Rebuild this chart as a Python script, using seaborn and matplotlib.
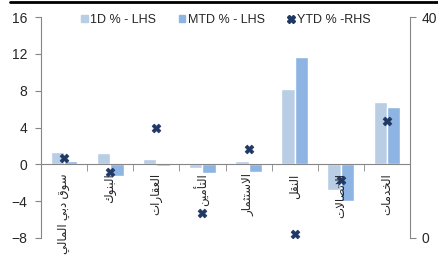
import numpy as np
import pandas as pd
import seaborn as sns
import matplotlib.pyplot as plt
from matplotlib.lines import Line2D
from matplotlib.patches import Patch

categories = ["سوق دبي المالي", "البنوك", "العقارات", "التأمين",
              "الاستثمار", "النقل", "الاتصالات", "الخدمات"]
d1 = [1.3, 1.2, 0.6, -0.4, 0.4, 8.2, -2.8, 6.8]
mtd = [0.4, -1.3, -0.2, -0.9, -0.8, 11.7, -4.0, 6.2]
ytd = [14.4, 12.0, 19.9, 4.5, 16.1, 0.7, 10.5, 21.2]
series_names = ["1D % - LHS", "MTD % - LHS", "YTD % -RHS"]

# minimal arabic shaping (no bidi lib available)
FORMS = {'ا': (0xFE8D, False), 'أ': (0xFE83, False), 'ب': (0xFE8F, True),
         'ت': (0xFE95, True), 'ث': (0xFE99, True), 'خ': (0xFEA5, True),
         'د': (0xFEA9, False), 'ر': (0xFEAD, False), 'س': (0xFEB1, True),
         'ص': (0xFEB9, True), 'ع': (0xFEC9, True), 'ق': (0xFED5, True),
         'ك': (0xFED9, True), 'ل': (0xFEDD, True), 'م': (0xFEE1, True),
         'ن': (0xFEE5, True), 'و': (0xFEED, False), 'ي': (0xFEF1, True)}


def shape(text):
    out = []
    i = 0
    while i < len(text):
        c = text[i]
        if c not in FORMS:
            out.append(c)
            i += 1
            continue
        prev = i > 0 and text[i - 1] in FORMS and FORMS[text[i - 1]][1]
        if c == 'ل' and i + 1 < len(text) and text[i + 1] in ('ا', 'أ'):
            base = 0xFEFB if text[i + 1] == 'ا' else 0xFEF7
            out.append(chr(base + (1 if prev else 0)))
            i += 2
            continue
        base, dual = FORMS[c]
        nxt = dual and i + 1 < len(text) and text[i + 1] in FORMS
        if prev and nxt:
            code = base + 3
        elif prev:
            code = base + 1
        elif nxt:
            code = base + 2
        else:
            code = base
        out.append(chr(code))
        i += 1
    return ''.join(reversed(out))


sns.set_style("white")
plt.rcParams['font.family'] = ['Liberation Sans', 'DejaVu Sans']

c1, c2, c3 = '#B9CDE5', '#8EB4E3', '#1F3864'
grey = '#868686'

df = pd.DataFrame({'cat': categories * 2,
                   'val': d1 + mtd,
                   'series': [series_names[0]] * 8 + [series_names[1]] * 8})

fig = plt.figure(figsize=(4.39, 2.65), dpi=100)
ax = fig.add_axes([0.0934, 0.1019, 0.8406, 0.8339])
sns.barplot(data=df, x='cat', y='val', hue='series', palette=[c1, c2],
            width=0.58, gap=0, ax=ax, legend=False, saturation=1)
ax.set_axisbelow(False)
ax.set_ylim(-8, 16)
ax.set_yticks(np.arange(-8, 17, 4))
ax.set_xlim(-0.5, 7.5)
ax.set_xlabel('')
ax.set_ylabel('')
ax.spines['top'].set_visible(False)
ax.spines['right'].set_visible(False)
ax.spines['left'].set_color(grey)
ax.spines['bottom'].set_color(grey)
ax.spines['bottom'].set_position(('data', 0))
ax.tick_params(axis='y', left=True, length=4, color=grey, labelsize=10, pad=6)
ax.set_xticks(range(8))
ax.set_xticklabels([shape(c) for c in categories], rotation=90, fontsize=8.5,
                   va='top', ha='center')
ax.tick_params(axis='x', bottom=False, pad=3)
ax.set_xticks(np.arange(-0.5, 8, 1), minor=True)
ax.tick_params(axis='x', which='minor', bottom=True, length=5, color=grey)

ax2 = ax.twinx()
sns.scatterplot(x=np.arange(8), y=ytd, marker='X', s=40, color=c3,
                edgecolor=c3, linewidth=0.5, ax=ax2, zorder=5)
ax2.set_ylim(0, 40)
ax2.set_yticks([0, 40])
for s in ['top', 'left', 'bottom']:
    ax2.spines[s].set_visible(False)
ax2.spines['right'].set_color(grey)
ax2.tick_params(axis='y', right=True, length=4, color=grey, labelsize=10, pad=4)

handles = [Patch(color=c1), Patch(color=c2),
           Line2D([], [], marker='X', color=c3, ls='', markersize=6)]
ax2.legend(handles, series_names, loc='upper center', bbox_to_anchor=(0.5, 1.065),
           ncol=3, frameon=False, fontsize=9, handlelength=0.55, handleheight=0.55,
           handletextpad=0.2, columnspacing=1.8)

fig.add_artist(Line2D([0.023, 1], [0.992, 0.992], color='black', lw=2,
                      transform=fig.transFigure))

fig.savefig('out.png', dpi=100)
